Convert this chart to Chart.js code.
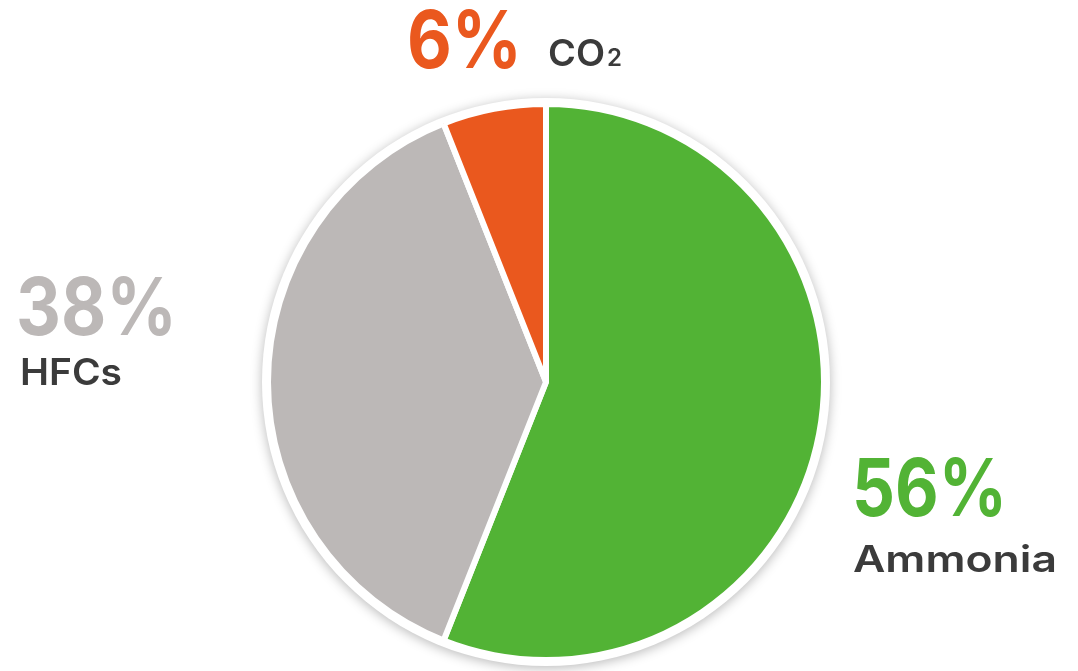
<!DOCTYPE html>
<html>
<head>
<meta charset="utf-8">
<script src="https://cdn.jsdelivr.net/npm/chart.js@4/dist/chart.umd.min.js"></script>
<style>
  html, body { margin: 0; padding: 0; background: #ffffff; }
  #wrap { position: relative; width: 1078px; height: 671px; }
</style>
</head>
<body>
<div id="wrap"><canvas id="c" width="1078" height="671"></canvas></div>
<script>
// ---- data ----
const categories = ['Ammonia', 'HFCs', 'CO2'];
const shares = [56, 38, 6];
const sliceColors = ['#52b335', '#bcb8b7', '#ea581e'];

// ---- label layout (text positions / widths, not marks) ----
const labelLayout = [
  { pctX: 852, pctY: 516, pctW: 155, nameX: 853, nameY: 572, nameW: 204 },
  { pctX: 16,  pctY: 335, pctW: 161, nameX: 20,  nameY: 385, nameW: 102 },
  { pctX: 407, pctY: 68,  pctW: 115, nameX: 548, nameY: 66,  nameW: 57 }
];

function fitText(ctx, text, x, y, targetW) {
  const w = ctx.measureText(text).width;
  const s = targetW ? targetW / w : 1;
  ctx.save();
  ctx.translate(x, y);
  ctx.scale(s, 1);
  ctx.fillText(text, 0, 0);
  ctx.restore();
  return w * s;
}

const ringPlugin = {
  id: 'ring',
  beforeDatasetsDraw(chart) {
    const arc = chart.getDatasetMeta(0).data[0];
    if (!arc) return;
    const ctx = chart.ctx;
    ctx.save();
    ctx.beginPath();
    ctx.arc(arc.x, arc.y, arc.outerRadius + 6, 0, Math.PI * 2);
    ctx.fillStyle = '#ffffff';
    ctx.shadowColor = 'rgba(0,0,0,0.28)';
    ctx.shadowBlur = 12;
    ctx.shadowOffsetX = 0;
    ctx.shadowOffsetY = 2;
    ctx.fill();
    ctx.restore();
  }
};

const labelPlugin = {
  id: 'labels',
  afterDraw(chart) {
    const ctx = chart.ctx;
    ctx.save();
    ctx.textBaseline = 'alphabetic';
    ctx.textAlign = 'left';
    categories.forEach((name, i) => {
      const L = labelLayout[i];
      ctx.fillStyle = sliceColors[i];
      ctx.font = '700 80px Inter';
      fitText(ctx, shares[i] + '%', L.pctX, L.pctY, L.pctW);
      ctx.fillStyle = '#3b3b3b';
      ctx.font = '600 37px Inter';
      if (name === 'CO2') {
        const w = fitText(ctx, 'CO', L.nameX, L.nameY, L.nameW);
        ctx.font = '600 24px Inter';
        ctx.fillText('2', L.nameX + w + 2, L.nameY);
      } else {
        fitText(ctx, name, L.nameX, L.nameY, L.nameW);
      }
    });
    ctx.restore();
  }
};

new Chart(document.getElementById('c'), {
  type: 'pie',
  data: {
    labels: categories,
    datasets: [{
      data: shares,
      backgroundColor: sliceColors,
      borderColor: '#ffffff',
      borderWidth: 6,
      radius: 278,
      clip: false
    }]
  },
  options: {
    responsive: false,
    animation: false,
    layout: { padding: { top: 93, bottom: 0, left: 14, right: 0 } },
    plugins: { legend: { display: false }, tooltip: { enabled: false } }
  },
  plugins: [ringPlugin, labelPlugin]
});
</script>
</body>
</html>
